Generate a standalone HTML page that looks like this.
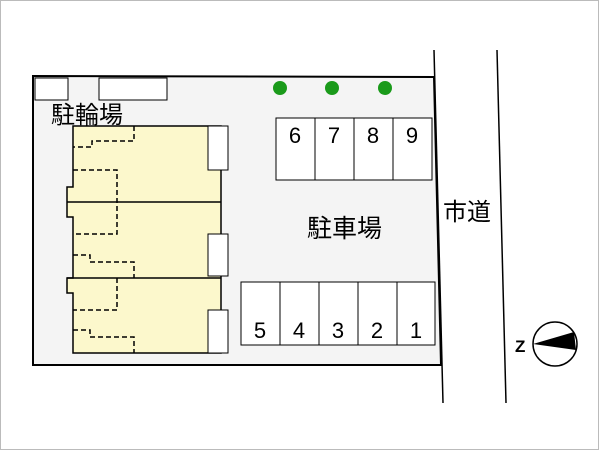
<!DOCTYPE html><html><head><style>body{margin:0;background:#fff}text{font-family:"Liberation Sans","Noto Sans CJK JP",sans-serif}</style></head><body>
<svg width="600" height="450" xmlns="http://www.w3.org/2000/svg">
<rect x="0.5" y="0.5" width="598" height="449" fill="#fff" stroke="#bbb"/>
<polygon points="33,76 434,77 441,365 33,365" fill="#f4f4f4" stroke="#000" stroke-width="2"/>
<line x1="434" y1="50" x2="443" y2="403" stroke="#000" stroke-width="1.5"/>
<line x1="497" y1="50" x2="506" y2="403" stroke="#000" stroke-width="1.5"/>
<rect x="35" y="78" width="33" height="22" fill="#fff" stroke="#000"/>
<rect x="99" y="78" width="68" height="22" fill="#fff" stroke="#000"/>
<text x="51" y="123" font-size="24">駐輪場</text>
<path d="M73,126H221V353H73V293H67V278H73V217H67V187H73Z" fill="#fcf8cc" stroke="#000" stroke-width="1.5"/>
<line x1="67" y1="202" x2="221" y2="202" stroke="#000" stroke-width="1.5"/>
<line x1="67" y1="278" x2="221" y2="278" stroke="#000" stroke-width="1.5"/>
<g fill="none" stroke="#000" stroke-width="1.5" stroke-dasharray="5,3">
<path d="M134,126V141H92V147H73"/>
<path d="M73,170H117V202V234H73"/>
<path d="M73,255H90V262H134V278"/>
<path d="M117,278V310H73"/>
<path d="M73,330H90V337H134V353"/>
</g>
<rect x="208" y="126" width="20" height="44" fill="#fff" stroke="#000"/>
<rect x="208" y="234" width="20" height="42" fill="#fff" stroke="#000"/>
<rect x="208" y="310" width="20" height="43" fill="#fff" stroke="#000"/>
<circle cx="280" cy="88" r="7" fill="#1a9a1a"/><circle cx="332" cy="88" r="7" fill="#1a9a1a"/><circle cx="385" cy="88" r="7" fill="#1a9a1a"/>
<g fill="#fff" stroke="#000">
<rect x="276" y="118" width="39" height="62"/><rect x="315" y="118" width="39" height="62"/><rect x="354" y="118" width="39" height="62"/><rect x="393" y="118" width="39" height="62"/>
<rect x="241" y="282" width="39" height="63"/><rect x="280" y="282" width="39" height="63"/><rect x="319" y="282" width="39" height="63"/><rect x="358" y="282" width="39" height="63"/><rect x="397" y="282" width="38" height="63"/>
</g>
<g font-size="22" text-anchor="middle">
<text x="295" y="143">6</text><text x="334" y="143">7</text><text x="373" y="143">8</text><text x="412" y="143">9</text>
<text x="260" y="338">5</text><text x="299" y="338">4</text><text x="338" y="338">3</text><text x="377" y="338">2</text><text x="416" y="338">1</text>
</g>
<text x="307" y="237" font-size="25">駐車場</text>
<text x="443" y="220" font-size="24">市道</text>
<circle cx="555" cy="344" r="22" fill="#fff" stroke="#000" stroke-width="1.5"/>
<polygon points="533,344 574,332 576,350" fill="#000"/>
<text x="515" y="352" font-size="17" font-weight="bold">Z</text>
</svg></body></html>
